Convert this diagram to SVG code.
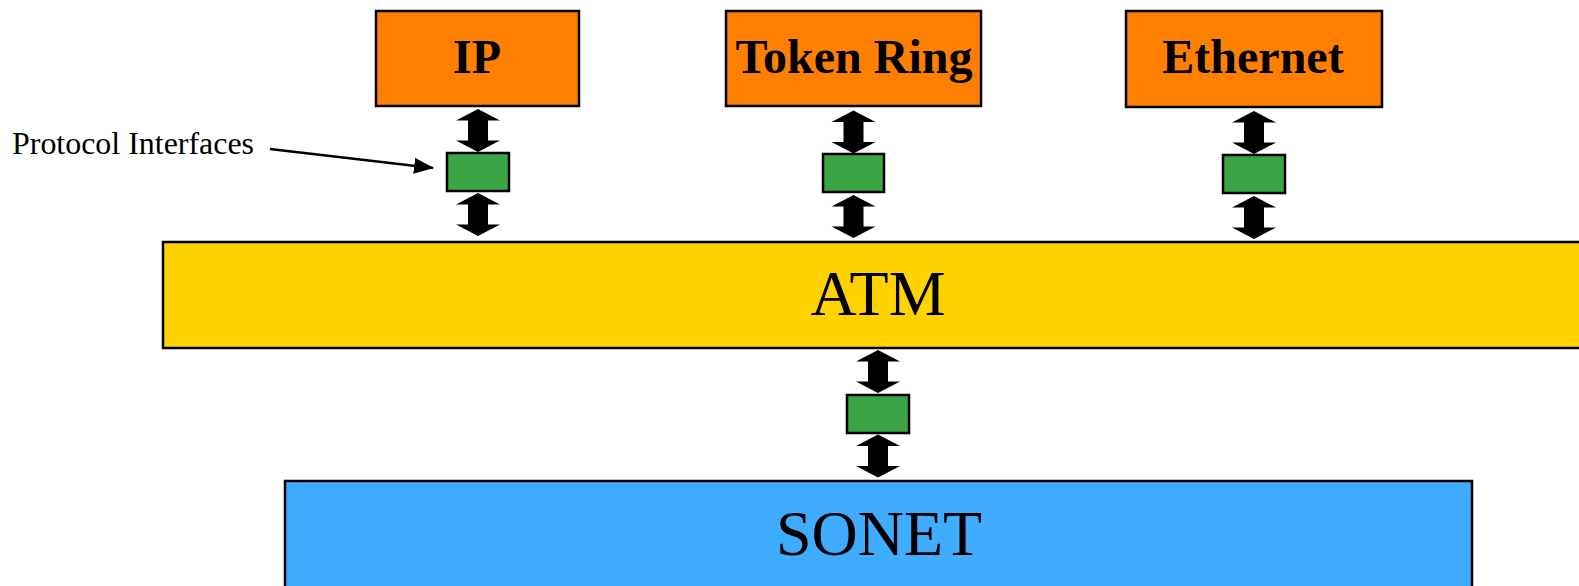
<svg xmlns="http://www.w3.org/2000/svg" width="1579" height="586" viewBox="0 0 1579 586">
<style>
.box{stroke:#000;stroke-width:2.5}
.proto{fill:#FF7F00}
.pi{fill:#3BA545}
.bold{font-family:"Liberation Serif","Times New Roman",serif;font-weight:bold;font-size:48px;text-anchor:middle;fill:#000}
.big{font-family:"Liberation Serif","Times New Roman",serif;font-size:64px;text-anchor:middle;fill:#000}
.lbl{font-family:"Liberation Serif","Times New Roman",serif;font-size:32px;fill:#000}
</style>
<defs>
<path id="dbl" d="M0,-21.5 L22,-10 L10,-10 L10,10 L22,10 L0,21.5 L-22,10 L-10,10 L-10,-10 L-22,-10 Z" fill="#000"/>
<marker id="ah" markerWidth="20" markerHeight="16" refX="19" refY="8" orient="auto" markerUnits="userSpaceOnUse">
<path d="M0,0 L20,8 L0,16 Z" fill="#000"/>
</marker>
</defs>
<rect width="1579" height="586" fill="#fff"/>

<g id="sonet">
<rect class="box" x="285" y="481" width="1187" height="120" fill="#3FACFF"/>
<text class="big" x="879" y="555">SONET</text>
</g>
<g id="atm">
<rect class="box" x="163" y="242" width="1430" height="106" fill="#FFD300"/>
<text class="big" x="878" y="315">ATM</text>
</g>
<g id="ip">
<rect class="box proto" x="376" y="11" width="203" height="95"/>
<text class="bold" x="477" y="73">IP</text>
</g>
<g id="tokenring">
<rect class="box proto" x="726" y="11" width="255" height="95"/>
<text class="bold" x="854" y="73">Token Ring</text>
</g>
<g id="ethernet">
<rect class="box proto" x="1126" y="11" width="256" height="96"/>
<text class="bold" x="1253" y="73">Ethernet</text>
</g>
<g id="pi-ip"><rect class="box pi" x="447" y="153" width="62" height="38"/></g>
<g id="pi-tokenring"><rect class="box pi" x="823" y="154" width="61" height="38"/></g>
<g id="pi-ethernet"><rect class="box pi" x="1223" y="155" width="62" height="38"/></g>
<g id="pi-atm"><rect class="box pi" x="847" y="395" width="62" height="38"/></g>
<g id="label">
<text class="lbl" x="12" y="154" textLength="242" lengthAdjust="spacingAndGlyphs">Protocol Interfaces</text>
</g>
<g id="connectors">
<use href="#dbl" x="478" y="130.5"/>
<use href="#dbl" x="478" y="214.5"/>
<use href="#dbl" x="853.5" y="132"/>
<use href="#dbl" x="853.5" y="216.5"/>
<use href="#dbl" x="1254" y="132.5"/>
<use href="#dbl" x="1254" y="217.5"/>
<use href="#dbl" x="878" y="371.5"/>
<use href="#dbl" x="878" y="456"/>
<line x1="270" y1="149" x2="433" y2="168" stroke="#000" stroke-width="2.5" marker-end="url(#ah)"/>
</g>
</svg>
